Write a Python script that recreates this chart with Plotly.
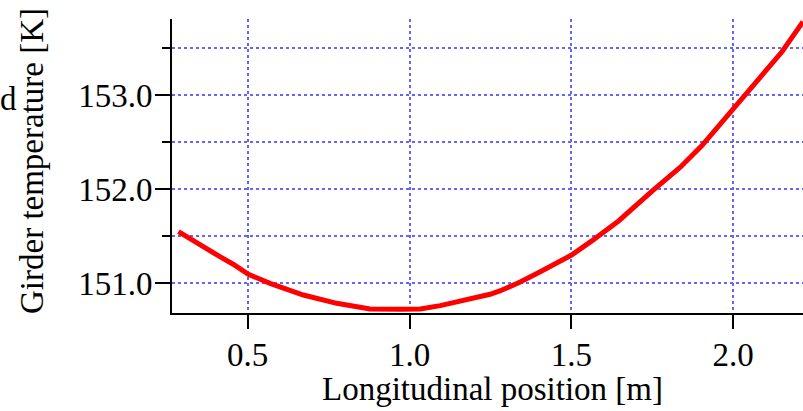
import plotly.graph_objects as go

# Longitudinal position [m]
position_m = [0.286, 0.353, 0.414, 0.455, 0.502, 0.569, 0.672, 0.775, 0.878, 0.971,
              1.033, 1.095, 1.177, 1.249, 1.281, 1.342, 1.404, 1.465, 1.502, 1.560,
              1.646, 1.754, 1.836, 1.903, 1.960, 2.001, 2.038, 2.084, 2.151, 2.216]
# Girder temperature [K]
temperature_k = [151.546, 151.400, 151.280, 151.200, 151.093, 150.997, 150.872, 150.784, 150.723, 150.720,
                 150.723, 150.759, 150.819, 150.880, 150.918, 151.010, 151.120, 151.230, 151.300, 151.440,
                 151.660, 151.990, 152.230, 152.460, 152.690, 152.850, 153.000, 153.180, 153.460, 153.780]

x_ticks = [0.5, 1.0, 1.5, 2.0]
y_ticks = [151.0, 152.0, 153.0]

FONT = "Liberation Serif"
FS = 33
GRID = "rgb(100,100,255)"

fig = go.Figure()
fig.add_trace(go.Scatter(x=position_m, y=temperature_k, mode="lines",
                         line=dict(color="rgb(255,0,0)", width=5),
                         hoverinfo="skip", showlegend=False))

fig.update_layout(
    width=803, height=411,
    margin=dict(l=172, r=0, t=19, b=98),
    paper_bgcolor="white", plot_bgcolor="white",
    font=dict(family=FONT, size=FS, color="black"),
    showlegend=False,
)
fig.update_xaxes(
    range=[0.266, 2.216],
    tickmode="array", tickvals=x_ticks, ticktext=[f"{v:.1f}" for v in x_ticks],
    ticks="outside", ticklen=14, tickwidth=2, tickcolor="black",
    showline=True, linecolor="black", linewidth=2,
    showgrid=True, gridcolor=GRID, griddash="dot", gridwidth=2,
    zeroline=False, tickfont=dict(family=FONT, size=FS),
    ticklabelstandoff=-3,
)
fig.update_yaxes(
    range=[150.681, 153.809],
    tickmode="array", tickvals=y_ticks, ticktext=[f"{v:.1f}" for v in y_ticks],
    ticks="outside", ticklen=15, tickwidth=2, tickcolor="black",
    showline=True, linecolor="black", linewidth=2,
    showgrid=True, gridcolor=GRID, griddash="dot", gridwidth=2,
    zeroline=False, tickfont=dict(family=FONT, size=FS),
    ticklabelstandoff=-4,
    minor=dict(tickmode="array", tickvals=[151.5, 152.5, 153.5], ticks="outside", ticklen=8,
               tickwidth=2, tickcolor="black",
               showgrid=True, gridcolor=GRID, griddash="dot", gridwidth=2),
)

fig.add_annotation(text="Longitudinal position [m]", xref="paper", yref="paper",
                   x=(492 - 172) / 631, y=-(389 - 313) / 294, xanchor="center", yanchor="middle",
                   showarrow=False, font=dict(family=FONT, size=FS))
fig.add_annotation(text="Girder temperature [K]", xref="paper", yref="paper",
                   x=-(172 - 32) / 631, y=(313 - 161) / 294, xanchor="center", yanchor="middle",
                   textangle=-90, showarrow=False, font=dict(family=FONT, size=FS))
fig.add_annotation(text="d", xref="paper", yref="paper",
                   x=-(172 - 18) / 631, y=(313 - 99) / 294, xanchor="right", yanchor="middle",
                   showarrow=False, borderpad=0, font=dict(family=FONT, size=FS))

fig.write_html("out.html")
